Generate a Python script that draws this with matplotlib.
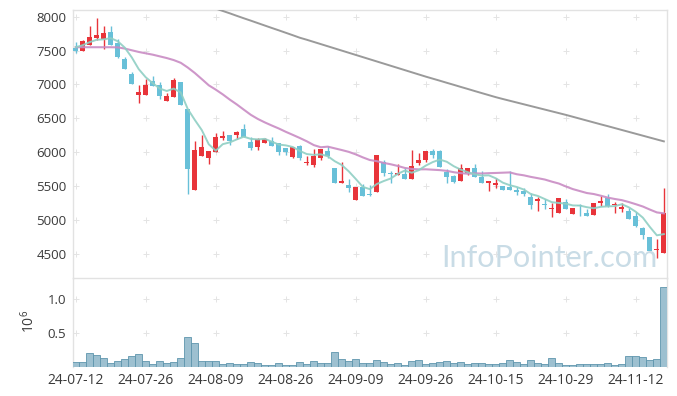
import matplotlib
matplotlib.use("Agg")
import matplotlib.pyplot as plt
import numpy as np

# ---------------- data ----------------
date_ticks = ["24-07-12", "24-07-26", "24-08-09", "24-08-26", "24-09-09",
              "24-09-26", "24-10-15", "24-10-29", "24-11-12"]

opens = [7540, 7500, 7590, 7680, 7670, 7770, 7610, 7380, 7160, 6850,
         6850, 7050, 6990, 6760, 6820, 7040, 6640, 5440, 5940, 5910,
         6010, 6210, 6260, 6260, 6340, 6150, 6080, 6130, 6160, 6130,
         6060, 5930, 6090, 5840, 5810, 5920, 6020, 5770, 5540, 5520,
         5300, 5490, 5380, 5420, 5850, 5690, 5670, 5680, 5610, 5840,
         5880, 6020, 6020, 5710, 5650, 5570, 5700, 5770, 5640, 5540,
         5520, 5500, 5490, 5450, 5430, 5340, 5280, 5230, 5160, 5110,
         5270, 5090, 5220, 5100, 5070, 5250, 5320, 5220, 5160, 5140,
         5060, 4880, 4755, 4555, 4520]
highs = [7630, 7660, 7860, 7980, 7860, 7860, 7670, 7410, 7190, 6990,
         7080, 7120, 7030, 6880, 7100, 7040, 6640, 6170, 6250, 6020,
         6280, 6310, 6260, 6310, 6410, 6220, 6210, 6210, 6230, 6130,
         6060, 6080, 6110, 5940, 6050, 6050, 6090, 5770, 5850, 5600,
         5490, 5530, 5510, 5960, 5890, 5720, 5830, 5770, 6030, 5990,
         6020, 6050, 6040, 5750, 5670, 5830, 5770, 5830, 5730, 5580,
         5620, 5500, 5720, 5490, 5470, 5400, 5340, 5310, 5250, 5330,
         5310, 5180, 5230, 5160, 5250, 5350, 5390, 5260, 5250, 5180,
         5120, 4900, 4755, 4720, 5470]
lows = [7460, 7500, 7590, 7650, 7530, 7590, 7390, 7230, 7010, 6720,
        6850, 6980, 6780, 6760, 6820, 6700, 5390, 5440, 5940, 5820,
        6010, 6180, 6110, 6200, 6220, 6040, 6030, 6130, 6090, 5960,
        5960, 5910, 5880, 5810, 5790, 5890, 5910, 5540, 5540, 5410,
        5300, 5350, 5360, 5420, 5650, 5540, 5660, 5610, 5610, 5810,
        5860, 5920, 5790, 5550, 5550, 5570, 5670, 5640, 5540, 5430,
        5470, 5450, 5450, 5370, 5360, 5170, 5140, 5170, 5050, 5110,
        5160, 5090, 5060, 5060, 5070, 5210, 5200, 5110, 5120, 5020,
        4900, 4715, 4545, 4445, 4520]
closes = [7500, 7640, 7700, 7730, 7760, 7590, 7410, 7230, 7010, 6890,
          6990, 6980, 6830, 6830, 7070, 6700, 5760, 6030, 6080, 6020,
          6230, 6240, 6160, 6300, 6220, 6070, 6200, 6200, 6090, 6010,
          6010, 6080, 5910, 5860, 5950, 6050, 5940, 5540, 5580, 5480,
          5490, 5360, 5370, 5960, 5700, 5680, 5700, 5610, 5800, 5890,
          6020, 5960, 5790, 5640, 5560, 5770, 5770, 5640, 5540, 5580,
          5550, 5450, 5450, 5410, 5390, 5220, 5310, 5220, 5180, 5330,
          5170, 5180, 5210, 5060, 5250, 5280, 5210, 5230, 5200, 5020,
          4910, 4780, 4545, 4575, 5110]

# volume in units of 10^6
volumes = [0.078, 0.078, 0.205, 0.176, 0.132, 0.059, 0.093, 0.117, 0.161, 0.190,
           0.088, 0.044, 0.088, 0.063, 0.073, 0.132, 0.439, 0.351, 0.088, 0.088,
           0.088, 0.049, 0.059, 0.044, 0.044, 0.073, 0.059, 0.029, 0.029, 0.054,
           0.029, 0.029, 0.073, 0.049, 0.088, 0.059, 0.059, 0.220, 0.117, 0.088,
           0.117, 0.059, 0.059, 0.102, 0.073, 0.049, 0.059, 0.029, 0.088, 0.102,
           0.044, 0.059, 0.073, 0.088, 0.059, 0.073, 0.044, 0.059, 0.059, 0.044,
           0.044, 0.059, 0.102, 0.073, 0.044, 0.102, 0.059, 0.044, 0.132, 0.059,
           0.029, 0.029, 0.044, 0.044, 0.044, 0.044, 0.059, 0.029, 0.044, 0.161,
           0.161, 0.146, 0.102, 0.117, 1.17]

ma5 = [7550, 7580, 7625, 7660, 7666, 7684, 7638, 7544, 7400, 7226,
       7106, 7020, 6940, 6904, 6940, 6882, 6638, 6478, 6328, 6118,
       6024, 6120, 6146, 6190, 6230, 6198, 6190, 6198, 6156, 6114,
       6102, 6078, 6020, 5974, 5962, 5970, 5942, 5868, 5812, 5718,
       5606, 5490, 5456, 5532, 5576, 5614, 5682, 5730, 5698, 5736,
       5804, 5856, 5892, 5860, 5794, 5744, 5706, 5676, 5656, 5660,
       5616, 5552, 5514, 5488, 5450, 5384, 5356, 5310, 5264, 5252,
       5242, 5216, 5214, 5190, 5174, 5196, 5202, 5206, 5234, 5188,
       5122, 5036, 4899, 4775, 4793]

ma20 = [7550, 7550, 7550, 7550, 7550, 7550, 7548, 7530, 7505, 7480,
        7460, 7440, 7415, 7390, 7360, 7320, 7250, 7170, 7080, 6988,
        6924, 6854, 6777, 6706, 6629, 6553, 6492, 6441, 6395, 6351,
        6302, 6257, 6211, 6162, 6106, 6074, 6083, 6058, 6033, 6006,
        5969, 5925, 5886, 5869, 5843, 5823, 5798, 5769, 5754, 5748,
        5749, 5743, 5737, 5726, 5706, 5692, 5684, 5689, 5687, 5692,
        5695, 5699, 5703, 5676, 5660, 5637, 5618, 5598, 5567, 5539,
        5496, 5457, 5428, 5399, 5384, 5359, 5331, 5311, 5294, 5266,
        5234, 5200, 5155, 5113, 5099]

ma_long = [np.nan] * 18 + [
    8190, 8155, 8120, 8085, 8050, 8013, 7977, 7942, 7906, 7870,
    7834, 7799, 7763, 7727, 7690, 7660, 7628, 7596, 7564, 7532,
    7500, 7468, 7436, 7404, 7372, 7340, 7308, 7276, 7244, 7212,
    7180, 7148, 7116, 7086, 7056, 7025, 6995, 6964, 6934, 6903,
    6873, 6843, 6813, 6786, 6760, 6734, 6708, 6682, 6656, 6630,
    6604, 6578, 6552, 6524, 6496, 6468, 6440, 6412, 6385, 6357,
    6329, 6301, 6273, 6245, 6217, 6189, 6161]

price_ticks = [4500, 5000, 5500, 6000, 6500, 7000, 7500, 8000]
vol_ticks = [0.5, 1.0]

# ---------------- style ----------------
UP = "#e8343a"
DOWN = "#68c0d8"
C_MA5 = "#8fcfc4"
C_MA20 = "#c98cc4"
C_LONG = "#9a9a9a"
SPINE = "#e2e2e2"
TXT = "#3a3a3a"
FONT = ["Open Sans", "DejaVu Sans"]

plt.rcParams["font.family"] = FONT
plt.rcParams["mathtext.fontset"] = "custom"
plt.rcParams["mathtext.rm"] = "Open Sans"
plt.rcParams["mathtext.it"] = "Open Sans"

W, H = 677, 396
fig = plt.figure(figsize=(W / 100, H / 100), dpi=100)


def fx(p):
    return p / W


def fy(p):
    return 1 - p / H


L_, R_ = 73.3, 667.0
T_, MID, B_ = 10.0, 278.3, 367.0
ax = fig.add_axes([fx(L_), fy(MID), fx(R_) - fx(L_), fy(T_) - fy(MID)])
axv = fig.add_axes([fx(L_), fy(B_), fx(R_) - fx(L_), fy(MID) - fy(B_)], sharex=ax)

x = np.arange(len(closes))
o = np.array(opens, float)
h = np.array(highs, float)
l = np.array(lows, float)
c = np.array(closes, float)
up = c >= o
cols = np.where(up, UP, DOWN)

# watermark
wm = fig.text(fx(441.7), fy(266.7), "InfoPointer.com", fontsize=22,
              family=["Lato", "DejaVu Sans"], color="#c9dce6",
              ha="left", va="baseline", zorder=0)
fig.canvas.draw()
bb = wm.get_window_extent()
wm.set_fontsize(22 * 216.6 / bb.width)

# candles
ax.vlines(x, l, h, colors=cols, linewidth=1.0, zorder=2)
body_lo = np.minimum(o, c)
body_h = np.maximum(np.abs(c - o), 12)
ax.bar(x, body_h, bottom=body_lo, width=0.72, color=cols, linewidth=0, zorder=3)

# moving averages
ax.plot(x, ma_long, color=C_LONG, lw=1.4, zorder=4)
ax.plot(x, ma20, color=C_MA20, lw=1.5, zorder=4, alpha=0.9)
ax.plot(x, ma5, color=C_MA5, lw=1.4, zorder=5, alpha=0.9)

# volume
axv.bar(x, volumes, width=1.0, color="#9dc0d0", edgecolor="#5e95ad",
        linewidth=0.6, zorder=3)

# grid crosses
xt = np.arange(0, 81, 10)
for yt in price_ticks:
    ax.plot(xt, [yt] * len(xt), ls="none", marker="+", ms=4, mew=0.7,
            color="#e4e4e4", zorder=1)
for yt in vol_ticks:
    axv.plot(xt, [yt] * len(xt), ls="none", marker="+", ms=4, mew=0.7,
             color="#e4e4e4", zorder=1)

ax.set_xlim(-0.35, 84.45)
ax.set_ylim(4141, 8099)
axv.set_ylim(0, 1.295)

ax.set_yticks(price_ticks)
ax.set_yticklabels([str(t) for t in price_ticks])
axv.set_yticks(vol_ticks)
axv.set_yticklabels(["0.5", "1.0"])
axv.set_xticks(xt)
axv.set_xticklabels(date_ticks)
ax.tick_params(axis="x", labelbottom=False, length=0)
ax.tick_params(axis="y", length=0, pad=5, labelsize=9.5, labelcolor=TXT)
axv.tick_params(axis="y", length=0, pad=5, labelsize=9.5, labelcolor=TXT)
axv.tick_params(axis="x", length=0, pad=4, labelsize=10, labelcolor=TXT)

axv.set_ylabel(r"$\mathregular{10^{6}}$", fontsize=10, color=TXT)
axv.yaxis.set_label_coords((38 - L_) / (R_ - L_), (B_ - 321) / (B_ - MID))

for a in (ax, axv):
    a.set_facecolor("none")
    for s in a.spines.values():
        s.set_color(SPINE)
        s.set_linewidth(1.0)
axv.spines["top"].set_visible(False)
axv.spines["bottom"].set_visible(False)

fig.savefig("out.png", dpi=100)
